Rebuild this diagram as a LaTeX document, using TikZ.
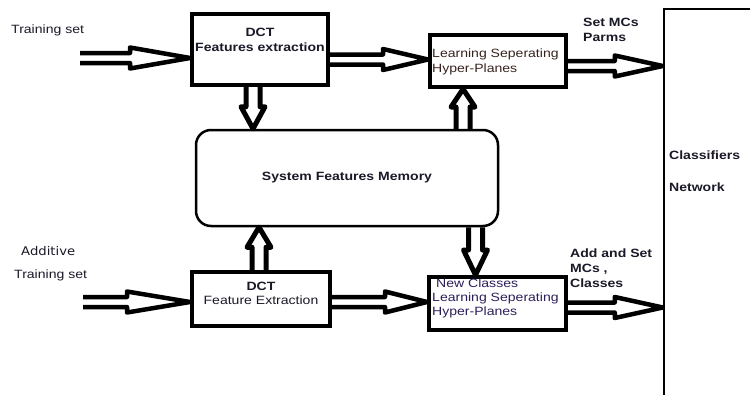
\documentclass[tikz,border=0pt]{standalone}
\usepackage{fontspec}
\setmainfont{Liberation Sans}[FakeStretch=1.17]
\newfontfamily\addfont{DejaVu Sans}[FakeStretch=1.1]
\usetikzlibrary{calc,positioning}

\definecolor{txt}{RGB}{25,25,40}
\definecolor{txtb}{RGB}{55,35,30}
\definecolor{txtp}{RGB}{45,30,90}

\tikzset{
  lbl/.style={inner sep=0pt, text=txt, font=\fontsize{12}{15}\selectfont},
  blk/.style={draw, line width=4pt, inner sep=0pt},
  hollow/.style n args={3}{line width=4.5pt, line join=round, to path={
    ($(\tikztostart)!#1!90:(\tikztotarget)$)
    -- ($($(\tikztotarget)!#3!(\tikztostart)$)!#1!90:(\tikztotarget)$)
    -- ($($(\tikztotarget)!#3!(\tikztostart)$)!#2!90:(\tikztotarget)$)
    -- (\tikztotarget)
    -- ($($(\tikztotarget)!#3!(\tikztostart)$)!#2!-90:(\tikztotarget)$)
    -- ($($(\tikztotarget)!#3!(\tikztostart)$)!#1!-90:(\tikztotarget)$)
    -- ($(\tikztostart)!#1!-90:(\tikztotarget)$)}},
  vhollow/.style={hollow={7pt}{12pt}{#1}, line width=5pt}
}

\begin{document}
\begin{tikzpicture}[x=1pt,y=-1pt]
    \useasboundingbox (0,0) rectangle (750,394);
    % boxes
    \node[blk, minimum width=136pt, minimum height=71pt] (dct1) at (260,49.5) {};
    \node[blk, minimum width=136pt, minimum height=52pt] (lsh1) at (498,61) {};
    \node[blk, minimum width=138pt, minimum height=54pt] (dct2) at (261,299) {};
    \node[blk, minimum width=137pt, minimum height=53pt] (lsh2) at (497.5,303.5) {};
    \node[draw, line width=2.5pt, rounded corners=15pt, minimum width=302pt,
      minimum height=96pt, lbl, font=\fontsize{12}{15}\selectfont\bfseries] (mem) at (347,178)
      {System Features Memory};
    \node[draw, line width=2.5pt, minimum width=120pt, minimum height=410pt] (net) at (724,214) {};

    % texts
    \node[lbl, anchor=west] (trA) at (11,30) {Training set};
    \node[lbl, align=center, font=\fontsize{12}{15}\selectfont\bfseries] (dct1txt) at (260,40)
      {DCT\\Features extraction};
    \node[lbl, text=txtb, align=left, anchor=west] (lsh1txt) at (432,62)
      {Learning Seperating\\Hyper-Planes};
    \node[lbl, align=left, anchor=west, font=\fontsize{12}{15}\selectfont\bfseries] (setA) at (583,30)
      {Set MCs\\Parms};
    \node[lbl, anchor=west, font=\fontsize{12}{15}\selectfont\bfseries] (clsA) at (669,155) {Classifiers};
    \node[lbl, anchor=west, font=\fontsize{12}{15}\selectfont\bfseries] (clsB) at (669,187) {Network};
    \node[lbl, anchor=west, font=\addfont\fontsize{12}{15}\selectfont] (addA) at (21,251) {Additive};
    \node[lbl, anchor=west] (trB) at (14,275) {Training set};
    \node[lbl, align=center, font=\fontsize{12}{13.5}\selectfont] (dct2txt) at (261,293.5)
      {\textbf{DCT}\\Feature Extraction};
    \node[lbl, text=txtp, align=left, anchor=west, font=\fontsize{12}{14}\selectfont] (lsh2txt) at (432,298)
      {\hspace*{4pt}New Classes\\Learning Seperating\\Hyper-Planes};
    \node[lbl, align=left, anchor=west, font=\fontsize{12}{15}\selectfont\bfseries] (addB) at (570,268)
      {Add and Set\\MCs ,\\Classes};

    % arrow ends
    \coordinate (in1) at (80,58);
    \coordinate (in2) at (83,302);
    \coordinate (a2s) at ([yshift=-10pt]dct1.east);
    \coordinate (a3s) at ([yshift=-5pt]lsh1.east);
    \coordinate (a5s) at ([yshift=-3pt]dct2.east);
    \coordinate (a6s) at ([yshift=-4pt]lsh2.east);
    \coordinate (v1) at ([xshift=-7pt]dct1.south);
    \coordinate (v2) at ([xshift=-35pt]lsh1.south);
    \coordinate (v3) at ([xshift=-22pt]lsh2.north);
    \coordinate (v4) at ([xshift=-2pt]dct2.north);

    % arrows
    \draw[hollow={5pt}{10.5pt}{60pt}] (in1) to (in1 -| dct1.west);
    \draw[hollow={5pt}{10.5pt}{45pt}] (a2s) to (a2s -| lsh1.west);
    \draw[hollow={5pt}{10.5pt}{48pt}] (a3s) to (a3s -| net.west);
    \draw[hollow={5pt}{10.5pt}{63pt}] (in2) to (in2 -| dct2.west);
    \draw[hollow={5pt}{10.5pt}{42pt}] (a5s) to (a5s -| lsh2.west);
    \draw[hollow={5pt}{10.5pt}{48pt}] (a6s) to (a6s -| net.west);
    \draw[vhollow=22pt] (v1) to (v1 |- mem.north);
    \draw[vhollow=18pt] (v2 |- mem.north) to (v2);
    \draw[vhollow=25pt] (v3 |- mem.south) to (v3);
    \draw[vhollow=20pt] (v4) to (v4 |- mem.south);
\end{tikzpicture}
\end{document}
